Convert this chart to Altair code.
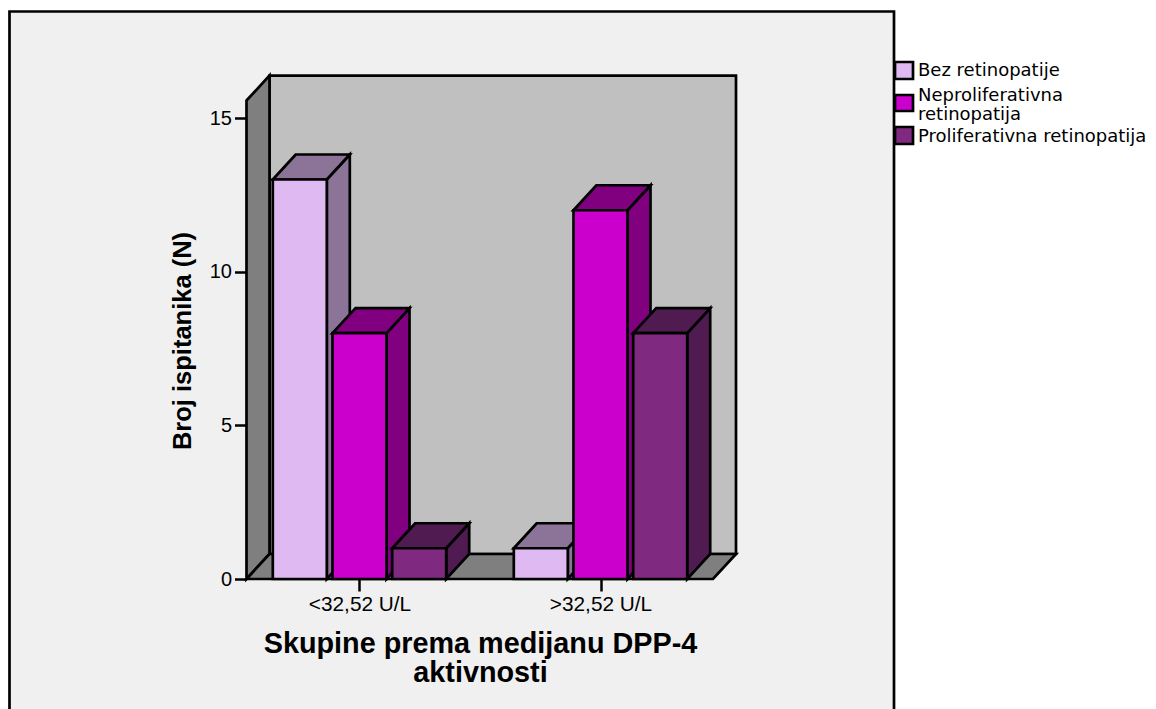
import altair as alt
import pandas as pd

groups = ["<32,52 U/L", ">32,52 U/L"]
series = ["Bez retinopatije", "Neproliferativna retinopatija", "Proliferativna retinopatija"]
legend_lines = [["Bez retinopatije"], ["Neproliferativna", "retinopatija"], ["Proliferativna retinopatija"]]
counts = [[13, 8, 1], [1, 12, 8]]
front_colors = ["#dfb9f2", "#cc00cc", "#7f2a80"]
shade_colors = ["#8b7497", "#800080", "#4f1b50"]
y_ticks = [0, 5, 10, 15]

W, H = 1140, 701
PX_GROUP = 241.0          # pixels per category step
PX_COUNT = 30.73          # pixels per count
ORIGIN_X, ORIGIN_Y = 359.5 - 8, 579 - 8   # first category / zero, inside the plot area
ux = lambda px: (px - 359.5) / PX_GROUP
uy = lambda px: (579 - px) / PX_COUNT
bar_w = 54 / PX_GROUP
bar_step = 59.7 / PX_GROUP
dep_x = 23 / PX_GROUP
dep_y = 25 / PX_COUNT
wall_top = 15.57
floor_l = ux(246.5)
floor_r = ux(713)
frame = dict(x=ux(9.5), x2=ux(894), y=uy(11.5), y2=-6.0)

xs = alt.Scale(domain=[-ORIGIN_X / PX_GROUP, (W - ORIGIN_X) / PX_GROUP], nice=False, zero=False)
ys = alt.Scale(domain=[(ORIGIN_Y - H) / PX_COUNT, ORIGIN_Y / PX_COUNT], nice=False, zero=False)

STROKE = dict(stroke="black", strokeWidth=2.7, strokeJoin="miter")

fronts, sides, tops = [], [], []
for g, vals in enumerate(counts):
    for s, v in enumerate(vals):
        x0 = g + (s - 1) * bar_step - bar_w / 2
        x1 = x0 + bar_w
        fronts.append(dict(x=x0, x2=x1, y=v, y2=0, series=series[s]))
        sh = shade_colors[s]
        key = f"{g}-{s}"
        sides += [dict(k=key, shade=sh, x=x1, y=v, y2=0),
                  dict(k=key, shade=sh, x=x1 + dep_x, y=v + dep_y, y2=dep_y)]
        tops += [dict(k=key, shade=sh, y=v, x=x0, x2=x1),
                 dict(k=key, shade=sh, y=v + dep_y, x=x0 + dep_x, x2=x1 + dep_x)]

X = lambda: alt.X("x:Q", scale=xs)
Y = lambda: alt.Y("y:Q", scale=ys, stack=None)

x_axis = alt.Axis(
    values=[0, 1], labelExpr="datum.value == 0 ? '%s' : '%s'" % tuple(groups),
    domain=False, grid=False, offset=-(H + 8 - 579), tickSize=12, tickWidth=2.5, tickColor="black",
    labelFont="Liberation Sans", labelFontSize=20.8, labelColor="black", labelPadding=3, labelOverlap=False,
    title=["Skupine prema medijanu DPP-4", "aktivnosti"],
    titleFont="Liberation Sans", titleFontSize=28.8, titleFontWeight="bold", titleColor="black",
    titleLineHeight=29, titleX=472, titleY=50, titleBaseline="top", titleAlign="center", titleAngle=0,
    zindex=1)
y_axis = alt.Axis(
    values=y_ticks, domain=False, grid=False, offset=-(246.5 - 8), tickSize=12, tickWidth=2.5, tickColor="black",
    labelFont="Liberation Sans", labelFontSize=20, labelColor="black", labelPadding=3,
    title="Broj ispitanika (N)",
    titleFont="Liberation Sans", titleFontSize=25.5, titleFontWeight="bold", titleColor="black",
    titleX=-51, titleY=332.5, titleAlign="center", zindex=1)

bg = alt.Chart(pd.DataFrame([frame])).mark_rect(fill="#f0f0f0", **STROKE).encode(
    x=alt.X("x:Q", scale=xs, axis=x_axis), x2="x2:Q",
    y=alt.Y("y:Q", scale=ys, axis=y_axis), y2="y2:Q")

back = alt.Chart(pd.DataFrame([dict(x=floor_l + dep_x, x2=floor_r + dep_x, y=wall_top + dep_y, y2=dep_y)])) \
    .mark_rect(fill="#c0c0c0", **STROKE).encode(x=X(), x2="x2:Q", y=Y(), y2="y2:Q")

left_wall = alt.Chart(pd.DataFrame([
    dict(x=floor_l, y=wall_top, y2=0),
    dict(x=floor_l + dep_x, y=wall_top + dep_y, y2=dep_y)])) \
    .mark_area(fill="#7f7f7f", **STROKE).encode(x=X(), y=Y(), y2="y2:Q")

floor = alt.Chart(pd.DataFrame([
    dict(y=0, x=floor_l, x2=floor_r),
    dict(y=dep_y, x=floor_l + dep_x, x2=floor_r + dep_x)])) \
    .mark_area(fill="#7f7f7f", orient="horizontal", **STROKE).encode(x=X(), x2="x2:Q", y=Y())

side_layer = alt.Chart(pd.DataFrame(sides)).mark_area(**STROKE).encode(
    x=X(), y=Y(), y2="y2:Q", detail="k:N", fill=alt.Fill("shade:N", scale=None))

top_layer = alt.Chart(pd.DataFrame(tops)).mark_area(orient="horizontal", **STROKE).encode(
    x=X(), x2="x2:Q", y=Y(), detail="k:N", fill=alt.Fill("shade:N", scale=None))

front_layer = alt.Chart(pd.DataFrame(fronts)).mark_rect(**STROKE).encode(
    x=X(), x2="x2:Q", y=Y(), y2="y2:Q",
    fill=alt.Fill("series:N", scale=alt.Scale(domain=series, range=front_colors), legend=None))

# legend, drawn as marks so the two-line entry can sit centred on its swatch
swatch_px = [(62, 79), (95, 111), (127, 144)]
text_px = [[71], [95.5, 114.5], [137]]
swatches = pd.DataFrame([
    dict(x=ux(895), x2=ux(913), y=uy(a), y2=uy(b), series=series[i])
    for i, (a, b) in enumerate(swatch_px)])
labels = pd.DataFrame([
    dict(x=ux(918), y=uy(p), label=line)
    for lines, ps in zip(legend_lines, text_px) for line, p in zip(lines, ps)])

legend_sw = alt.Chart(swatches).mark_rect(**STROKE).encode(
    x=X(), x2="x2:Q", y=Y(), y2="y2:Q",
    fill=alt.Fill("series:N", scale=alt.Scale(domain=series, range=front_colors), legend=None))
legend_tx = alt.Chart(labels).mark_text(
    align="left", baseline="middle", font="DejaVu Sans", fontSize=18, color="black"
).encode(x=X(), y=Y(), text="label:N")

chart = alt.layer(bg, back, left_wall, floor, side_layer, top_layer, front_layer, legend_sw, legend_tx).resolve_scale(
    fill="independent"
).properties(
    width=W, height=H, padding=0, background="white",
    autosize=alt.AutoSizeParams(type="none")
).configure_view(stroke=None)

chart.save("out.html", embed_options={"renderer": "svg", "actions": False})
